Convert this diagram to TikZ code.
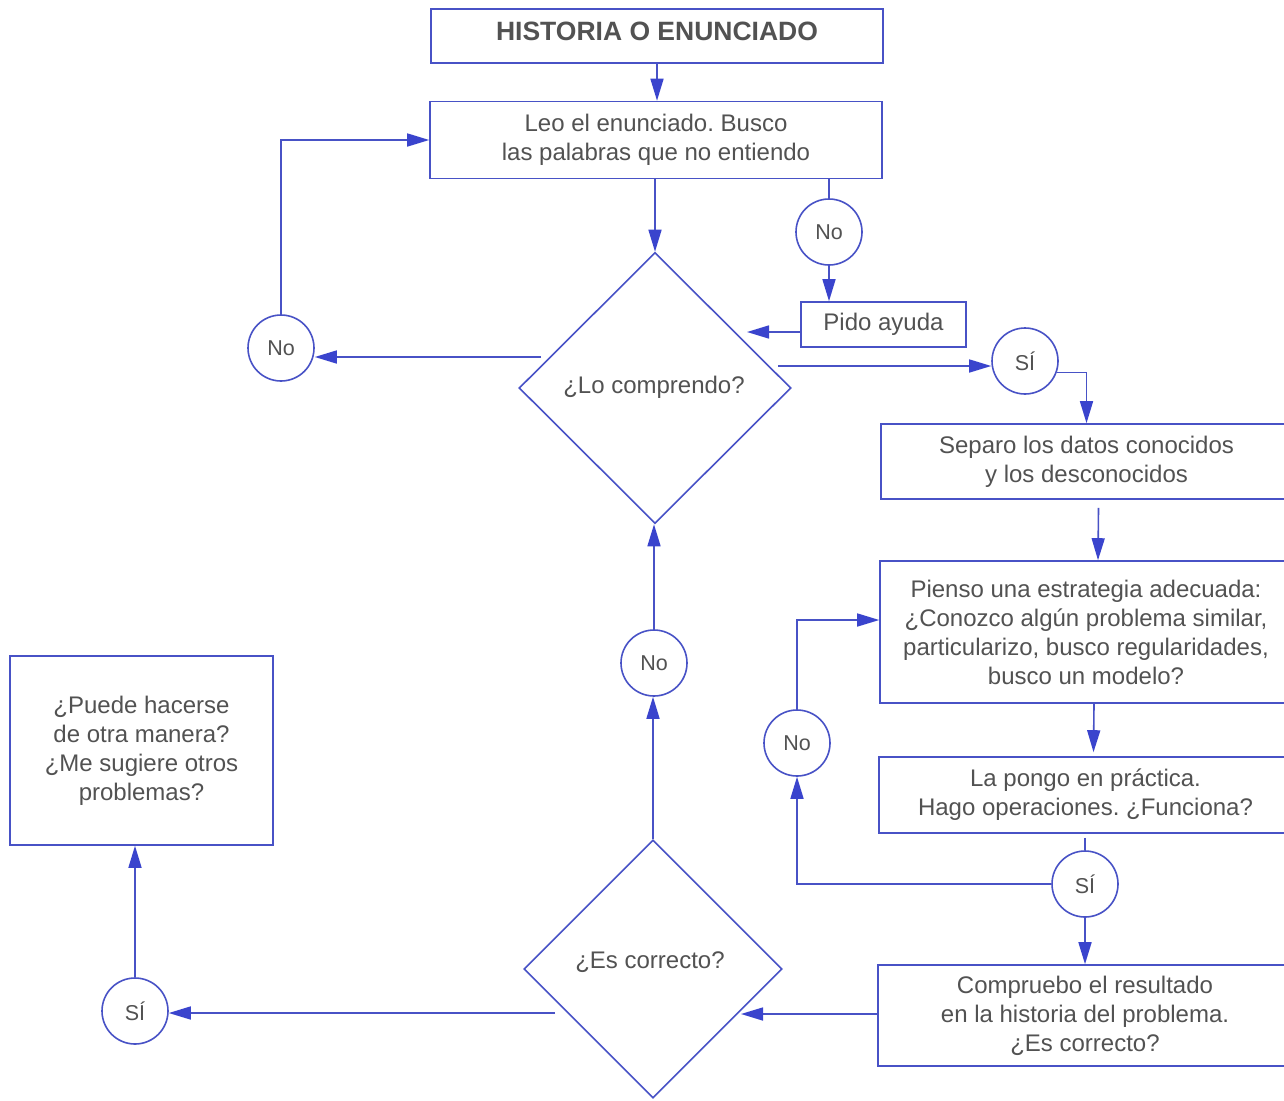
\documentclass[tikz,border=0pt]{standalone}
\usepackage{fontspec}
\setmainfont{Liberation Sans}
\frenchspacing
\usetikzlibrary{shapes.geometric,arrows.meta}
\definecolor{lineblue}{RGB}{72,82,198}
\definecolor{tipblue}{RGB}{58,68,205}
\definecolor{txtgray}{RGB}{82,82,82}
\begin{document}
\begin{tikzpicture}[x=1pt,y=-1pt,
  every node/.style={text=txtgray},
  box/.style={draw=lineblue,line width=1.6pt,rectangle,inner sep=0pt,align=center,font=\fontsize{24}{29}\selectfont},
  dia/.style={draw=lineblue,line width=1.6pt,diamond,inner sep=0pt},
  circ/.style={draw=lineblue,line width=1.6pt,circle,minimum size=66pt,inner sep=0pt,font=\fontsize{21.5}{25}\selectfont},
  conn/.style={draw=lineblue,line width=1.6pt},
  arr/.style={conn,-{Triangle[length=22pt,width=13pt,fill=tipblue,color=tipblue]}}
]
\useasboundingbox[fill=white] (0,0) rectangle (1284,1100);

% nodes
\node[box,minimum width=452pt,minimum height=54pt,text depth=9pt,font=\bfseries\fontsize{26.5}{30}\selectfont] (title) at (657,36) {HISTORIA O ENUNCIADO};
\node[box,minimum width=452pt,minimum height=77pt] (leo) at (656,140) {Leo el enunciado. Busco\\las palabras que no entiendo};
\node[dia,minimum width=272pt,minimum height=271pt] (comp) at (655,388) {};
\node[font=\fontsize{24}{29}\selectfont] (compt) at (654,387) {¿Lo comprendo?};
\node[circ] (no1) at (281,348) {No};
\node[circ] (notop) at (829,232) {No};
\node[box,minimum width=165pt,minimum height=45pt] (pido) at (883.5,324.5) {Pido ayuda};
\node[circ] (si1) at (1025,361) {SÍ};
\node[box,minimum width=411pt,minimum height=75pt] (separo) at (1086.5,461.5) {Separo los datos conocidos\\y los desconocidos};
\node[box,minimum width=412pt,minimum height=142pt] (pienso) at (1086,632) {Pienso una estrategia adecuada:\\¿Conozco algún problema similar,\\particularizo, busco regularidades,\\busco un modelo?};
\node[box,minimum width=413pt,minimum height=76pt] (pongo) at (1085.5,795) {La pongo en práctica.\\Hago operaciones. ¿Funciona?};
\node[circ] (si2) at (1085,884) {SÍ};
\node[circ] (no2) at (797,743) {No};
\node[box,minimum width=414pt,minimum height=101pt] (compr) at (1085,1015.5) {Compruebo el resultado\\en la historia del problema.\\¿Es correcto?};
\node[dia,minimum width=258pt,minimum height=258pt] (corr) at (653,969) {};
\node[font=\fontsize{24}{29}\selectfont] (corrt) at (650,962) {¿Es correcto?};
\node[circ] (no3) at (654,663) {No};
\node[circ] (si3) at (135,1011) {SÍ};
\node[box,minimum width=263pt,minimum height=189pt] (otra) at (141.5,750.5) {¿Puede hacerse\\de otra manera?\\¿Me sugiere otros\\problemas?};

% helper coordinates
\coordinate (pidoEnd) at (747,332);
\coordinate (compR) at (778,366);
\coordinate (compL) at (541,357);
\coordinate (corrR) at (741,1014);
\coordinate (corrL) at (555,1013);
\coordinate (bend2) at (797,620);

% connectors
\draw[arr] (title.south) -- (title.south |- leo.north);
\draw[arr] (comp.north |- leo.south) -- (comp.north);
\draw[conn] (notop.north |- leo.south) -- (notop.north);
\draw[arr] (notop.south) -- (notop.south |- pido.north);
\draw[arr] (pido.west |- pidoEnd) -- (pidoEnd);
\draw[arr] (compR) -- (compR -| si1.west);
\draw[arr] (si1.-20) -| (separo.north);
\draw[arr] ([xshift=12pt,yshift=-8pt]separo.south) -- ([xshift=12pt]pienso.north);
\draw[arr] ([xshift=8pt]pienso.south) -- ([xshift=8pt,yshift=4pt]pongo.north);
\draw[conn] ([yshift=-4pt]pongo.south -| si2.north) -- (si2.north);
\draw[arr] (si2.west) -| (no2.south);
\draw[arr] (no2.north) |- (bend2 -| pienso.west);
\draw[arr] (si2.south) -- (si2.south |- compr.north);
\draw[arr] (compr.west |- corrR) -- (corrR);
\draw[arr] (corr.north) -- (corr.north |- no3.south);
\draw[arr] (no3.north) -- (no3.north |- comp.south);
\draw[arr] (corrL) -- (corrL -| si3.east);
\draw[arr] (si3.north) -- (si3.north |- otra.south);
\draw[arr] (compL) -- (compL -| no1.east);
\draw[arr] (no1.north) |- (leo.west);
\end{tikzpicture}
\end{document}
